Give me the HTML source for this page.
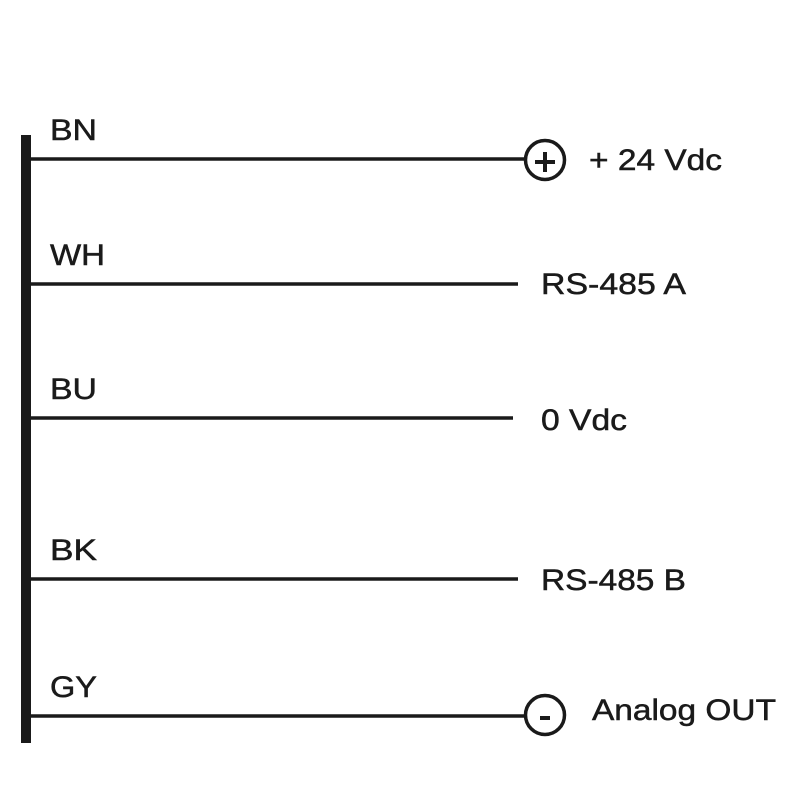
<!DOCTYPE html>
<html><head><style>html,body{margin:0;padding:0;background:#fff;}svg{display:block}</style></head>
<body>
<svg width="800" height="800" xmlns="http://www.w3.org/2000/svg">
<rect x="21" y="135" width="10" height="608" fill="#1a1a1a"/>
<g stroke="#1a1a1a" fill="none">
<line x1="30" y1="159" x2="525" y2="159" stroke-width="3.5"/>
<line x1="30" y1="284" x2="518" y2="284" stroke-width="3.5"/>
<line x1="30" y1="418" x2="513" y2="418" stroke-width="3.5"/>
<line x1="30" y1="579" x2="518" y2="579" stroke-width="3.5"/>
<line x1="30" y1="716" x2="525" y2="716" stroke-width="3.5"/>
<circle cx="545" cy="160" r="19.5" stroke-width="3.5"/>
<circle cx="545" cy="715" r="19.5" stroke-width="3.5"/>
<line x1="535" y1="162" x2="555" y2="162" stroke-width="4"/>
<line x1="545" y1="152" x2="545" y2="172" stroke-width="4"/>
<line x1="540" y1="718" x2="550" y2="718" stroke-width="4"/>
</g>
<g font-family="Liberation Sans, Arial, sans-serif" font-size="30" fill="#1a1a1a" stroke="#1a1a1a" stroke-width="0.5">
<text x="50" y="140" textLength="47" lengthAdjust="spacingAndGlyphs">BN</text>
<text x="50" y="265" textLength="55" lengthAdjust="spacingAndGlyphs">WH</text>
<text x="50" y="399" textLength="47" lengthAdjust="spacingAndGlyphs">BU</text>
<text x="50" y="560" textLength="47" lengthAdjust="spacingAndGlyphs">BK</text>
<text x="50" y="697" textLength="47" lengthAdjust="spacingAndGlyphs">GY</text>
<text x="589" y="170" textLength="133" lengthAdjust="spacingAndGlyphs">+ 24 Vdc</text>
<text x="541" y="294" textLength="145" lengthAdjust="spacingAndGlyphs">RS-485 A</text>
<text x="541" y="430" textLength="86" lengthAdjust="spacingAndGlyphs">0 Vdc</text>
<text x="541" y="590" textLength="145" lengthAdjust="spacingAndGlyphs">RS-485 B</text>
<text x="592" y="720" textLength="184" lengthAdjust="spacingAndGlyphs">Analog OUT</text>
</g>
</svg>
</body></html>
